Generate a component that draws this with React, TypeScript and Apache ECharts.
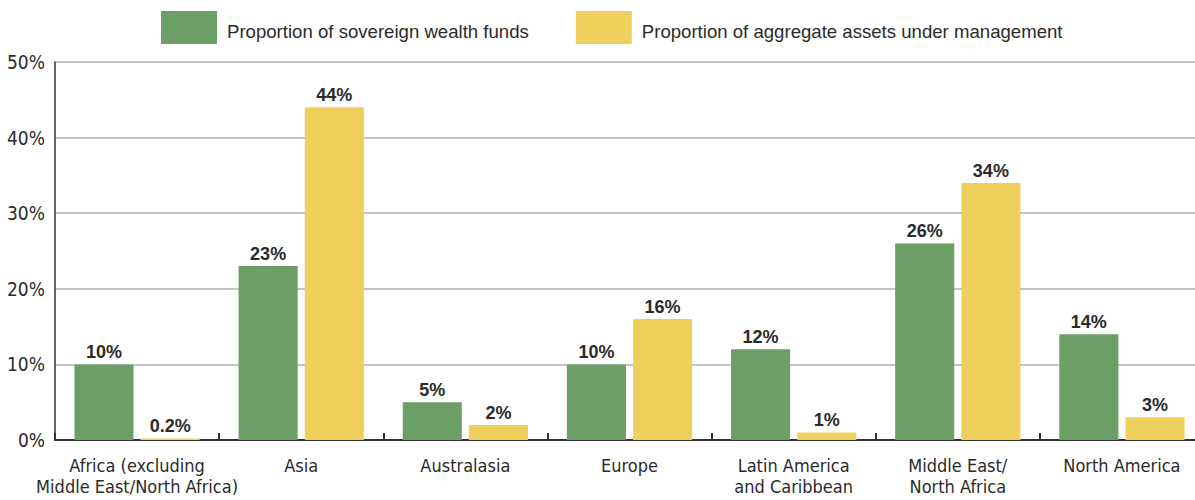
import React, { useEffect, useRef } from "react";
import * as echarts from "echarts";

const categories = [
  "Africa (excluding\nMiddle East/North Africa)",
  "Asia",
  "Australasia",
  "Europe",
  "Latin America\nand Caribbean",
  "Middle East/\nNorth Africa",
  "North America",
];
const fundsShare = [10, 23, 5, 10, 12, 26, 14];
const assetsShare = [0.2, 44, 2, 16, 1, 34, 3];
const seriesNames = [
  "Proportion of sovereign wealth funds",
  "Proportion of aggregate assets under management",
];

const NARROW = "'Liberation Sans Narrow', 'DejaVu Sans Condensed', 'Arial Narrow', sans-serif";
const SANS = "'Liberation Sans', Arial, Helvetica, sans-serif";

export default function App() {
  const ref = useRef<HTMLDivElement>(null);
  useEffect(() => {
    document.body.style.margin = "0";
    document.body.style.overflow = "hidden";
    const chart = echarts.init(ref.current!, null, { renderer: "svg" });
    const label = {
      show: true,
      position: "top",
      distance: 3,
      fontFamily: SANS,
      fontWeight: "bold",
      fontSize: 18,
      color: "#2b2b2b",
      formatter: (p: any) => p.value + "%",
    };
    chart.setOption({
      animation: false,
      legend: {
        left: 161,
        top: 11,
        padding: 0,
        itemWidth: 56,
        itemHeight: 33,
        itemGap: 47,
        icon: "rect",
        formatter: (name: string) => "{t|" + name + "}",
        textStyle: {
          fontFamily: SANS,
          fontSize: 18.6,
          color: "#2b2b2b",
          rich: {
            t: {
              fontFamily: SANS,
              fontSize: 18.6,
              color: "#2b2b2b",
              padding: [8, 0, 0, 5],
            },
          },
        },
        data: seriesNames,
      },
      grid: { left: 55, right: 1, top: 62, bottom: 60, containLabel: false },
      xAxis: {
        type: "category",
        data: categories,
        axisLine: { lineStyle: { color: "#333", width: 2 } },
        axisTick: { show: true, inside: true, length: 7, lineStyle: { color: "#333", width: 2 } },
        axisLabel: {
          fontFamily: NARROW,
          fontSize: 18,
          color: "#2b2b2b",
          lineHeight: 21,
          margin: 15,
          interval: 0,
        },
      },
      yAxis: {
        type: "value",
        min: 0,
        max: 50,
        interval: 10,
        axisLine: { show: true, lineStyle: { color: "#333", width: 1.5 } },
        axisTick: { show: false },
        splitLine: { lineStyle: { color: "#c4c4c4", width: 2 } },
        axisLabel: {
          fontFamily: NARROW,
          fontSize: 19,
          color: "#2b2b2b",
          margin: 10,
          formatter: (v: number) => v + "%",
        },
      },
      series: [
        {
          name: seriesNames[0],
          type: "bar",
          data: fundsShare,
          barWidth: "36%",
          barGap: "12%",
          itemStyle: { color: "#6b9f65" },
          label,
        },
        {
          name: seriesNames[1],
          type: "bar",
          data: assetsShare,
          barWidth: "36%",
          barGap: "12%",
          itemStyle: { color: "#f0d05c" },
          label,
        },
      ],
    });
    return () => chart.dispose();
  }, []);
  return (
    <div style={{ width: 1195, height: 500, overflow: "hidden" }}>
      <div ref={ref} style={{ width: 1205, height: 500 }} />
    </div>
  );
}
